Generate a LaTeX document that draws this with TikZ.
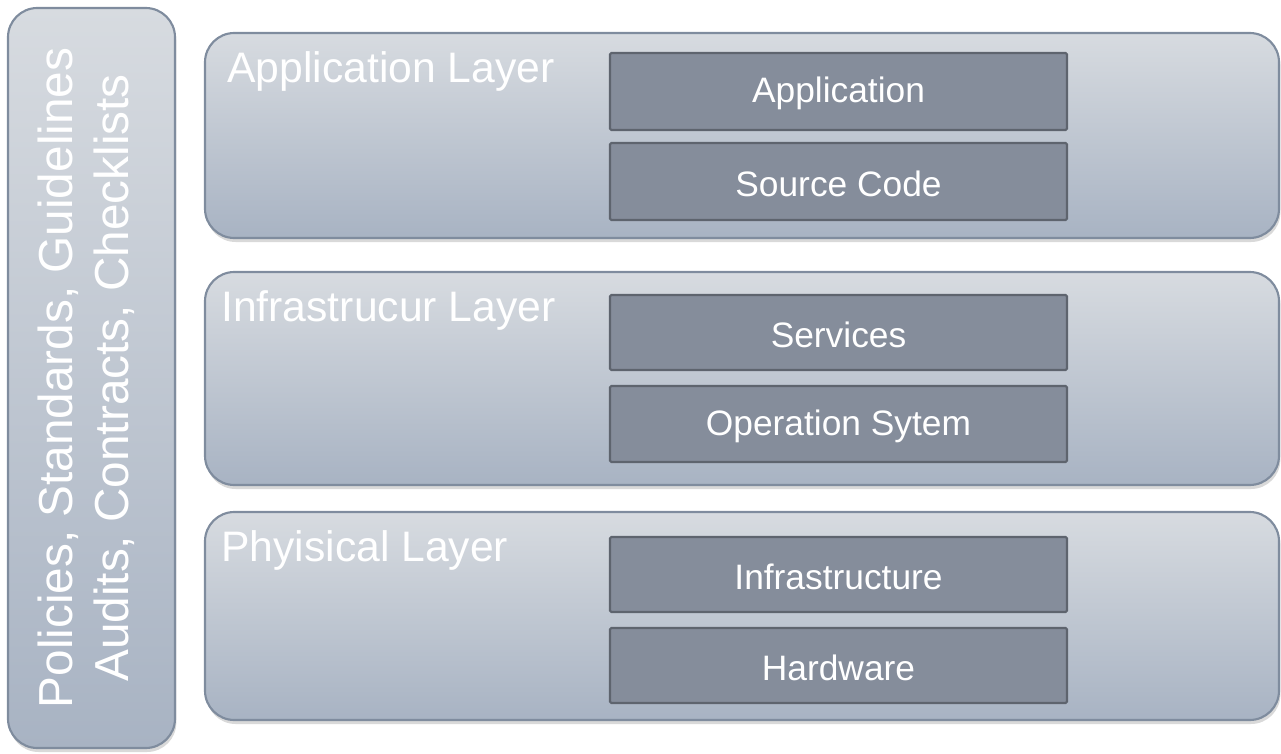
\documentclass[tikz,border=0pt]{standalone}
\usepackage{fontspec}
\setmainfont{Liberation Sans}
\usetikzlibrary{shadows}
\definecolor{lborder}{HTML}{7F8C9E}
\definecolor{ltop}{HTML}{D7DBE0}
\definecolor{lbot}{HTML}{A8B3C3}
\definecolor{ifill}{HTML}{858D9B}
\definecolor{iborder}{HTML}{5E646E}
\tikzset{
  panel/.style={draw=lborder, line width=1.6pt, rounded corners=22pt, top color=ltop, bottom color=lbot,
    drop shadow={shadow xshift=1pt, shadow yshift=-3pt, opacity=0.25, fill=black!60}},
  inner/.style={draw=iborder, line width=1.6pt, fill=ifill, rounded corners=1pt},
  ttl/.style={text=white, font=\fontsize{32}{36}\selectfont, anchor=west, inner sep=0pt},
  itxt/.style={text=white, font=\fontsize{26.5}{30}\selectfont, inner sep=0pt},
}
\begin{document}
\begin{tikzpicture}[x=0.75pt,y=-0.75pt]
\useasboundingbox (0,0) rectangle (1281,753);
% left panel
\path[panel] (8,8) rectangle (175,748);
\node[text=white, rotate=90, align=center, inner sep=0pt, font=\fontsize{35.8}{42}\selectfont] (pol) at (86,378)
  {Policies, Standards, Guidelines\\Audits, Contracts, Checklists};
% layers
\path[panel] (205,33) rectangle (1279,238);
\path[panel] (205,272) rectangle (1279,485);
\path[panel] (205,512) rectangle (1279,720);
\node[ttl] (t1) at (227,71) {Application Layer};
\node[ttl] (t2) at (221,310) {Infrastrucur Layer};
\node[ttl] (t3) at (221,550) {Phyisical Layer};
% inner boxes
\path[inner] (610,53) rectangle (1067,130);
\node[itxt] (app) at (838.5,93) {Application};
\path[inner] (610,143) rectangle (1067,220);
\node[itxt] (src) at (838.5,184) {Source Code};
\path[inner] (610,295) rectangle (1067,370);
\node[itxt] (srv) at (838.5,335) {Services};
\path[inner] (610,386) rectangle (1067,462);
\node[itxt] (os) at (838.5,426) {Operation Sytem};
\path[inner] (610,537) rectangle (1067,612);
\node[itxt] (inf) at (838.5,577) {Infrastructure};
\path[inner] (610,628) rectangle (1067,703);
\node[itxt] (hw) at (838.5,668) {Hardware};
\end{tikzpicture}
\end{document}
